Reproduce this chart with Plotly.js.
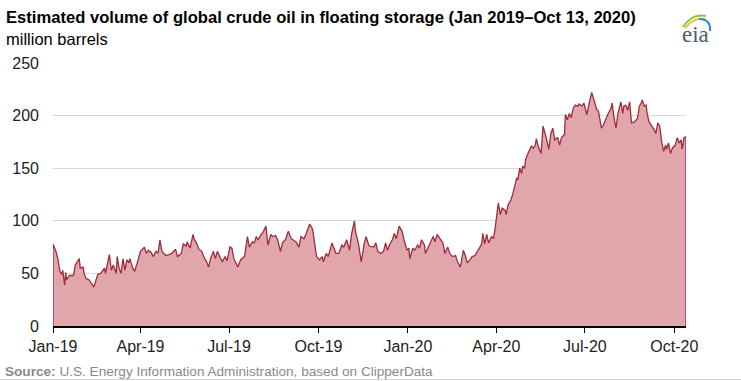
<!DOCTYPE html>
<html>
<head>
<meta charset="utf-8">
<script src="https://cdn.plot.ly/plotly-3.0.1.min.js"></script>
<style>html,body{margin:0;padding:0;background:#fff;}#chart{width:741px;height:381px;}</style>
</head>
<body>
<div id="chart"></div>
<script>
// Estimated global crude oil in floating storage, million barrels
const dates = [
"2019-01-01","2019-01-04","2019-01-06","2019-01-08","2019-01-10","2019-01-11","2019-01-13","2019-01-14","2019-01-15","2019-01-18",
"2019-01-22","2019-01-24","2019-01-28","2019-01-29","2019-02-01","2019-02-02","2019-02-04","2019-02-07","2019-02-12","2019-02-16",
"2019-02-19","2019-02-23","2019-02-24","2019-02-28","2019-03-02","2019-03-04","2019-03-07","2019-03-08","2019-03-10","2019-03-12",
"2019-03-14","2019-03-16","2019-03-18","2019-03-20","2019-03-21","2019-03-24","2019-03-26","2019-03-29","2019-04-01","2019-04-05",
"2019-04-07","2019-04-09","2019-04-12","2019-04-14","2019-04-17","2019-04-19","2019-04-21","2019-04-23","2019-04-25","2019-04-27",
"2019-05-01","2019-05-03","2019-05-07","2019-05-09","2019-05-13","2019-05-15","2019-05-18","2019-05-19","2019-05-22","2019-05-25",
"2019-05-26","2019-05-29","2019-05-31","2019-06-03","2019-06-05","2019-06-08","2019-06-10","2019-06-12","2019-06-15","2019-06-17",
"2019-06-19","2019-06-22","2019-06-24","2019-06-27","2019-06-29","2019-07-02","2019-07-04","2019-07-06","2019-07-10","2019-07-13",
"2019-07-17","2019-07-20","2019-07-22","2019-07-25","2019-07-27","2019-07-29","2019-07-31","2019-08-03","2019-08-05","2019-08-08",
"2019-08-10","2019-08-13","2019-08-15","2019-08-18","2019-08-20","2019-08-23","2019-08-25","2019-08-28","2019-08-31","2019-09-03",
"2019-09-05","2019-09-08","2019-09-11","2019-09-13","2019-09-16","2019-09-18","2019-09-22","2019-09-25","2019-09-27","2019-09-29",
"2019-10-02","2019-10-05","2019-10-06","2019-10-09","2019-10-11","2019-10-15","2019-10-17","2019-10-19","2019-10-22","2019-10-25",
"2019-10-27","2019-10-30","2019-11-02","2019-11-04","2019-11-07","2019-11-08","2019-11-11","2019-11-14","2019-11-17","2019-11-19",
"2019-11-22","2019-11-25","2019-11-27","2019-11-29","2019-12-01","2019-12-04","2019-12-07","2019-12-09","2019-12-11","2019-12-13",
"2019-12-16","2019-12-18","2019-12-20","2019-12-23","2019-12-26","2019-12-28","2019-12-31",
"2020-01-02","2020-01-03","2020-01-06","2020-01-08","2020-01-11","2020-01-13","2020-01-15","2020-01-18","2020-01-19","2020-01-22",
"2020-01-25","2020-01-27","2020-01-29","2020-01-31","2020-02-03","2020-02-06","2020-02-08","2020-02-11","2020-02-13","2020-02-16",
"2020-02-19","2020-02-21","2020-02-24","2020-02-26","2020-02-27","2020-02-29","2020-03-02","2020-03-05","2020-03-07","2020-03-10",
"2020-03-13","2020-03-15","2020-03-17","2020-03-18","2020-03-20","2020-03-22","2020-03-24","2020-03-27","2020-03-29","2020-03-31",
"2020-04-01","2020-04-03","2020-04-05","2020-04-07","2020-04-10","2020-04-11","2020-04-13","2020-04-16","2020-04-18","2020-04-20",
"2020-04-22","2020-04-23","2020-04-25","2020-04-27","2020-04-28","2020-04-30","2020-05-01","2020-05-03","2020-05-05","2020-05-07",
"2020-05-09","2020-05-11","2020-05-12","2020-05-14","2020-05-17","2020-05-19","2020-05-22","2020-05-25","2020-05-27","2020-05-29",
"2020-05-31","2020-06-03","2020-06-05","2020-06-07","2020-06-10","2020-06-11","2020-06-13","2020-06-15","2020-06-17","2020-06-19",
"2020-06-21","2020-06-24","2020-06-25","2020-06-28","2020-06-30","2020-07-03","2020-07-05","2020-07-06","2020-07-08","2020-07-11",
"2020-07-13","2020-07-15","2020-07-16","2020-07-18","2020-07-20","2020-07-22","2020-07-24","2020-07-25","2020-07-28","2020-07-29",
"2020-07-31","2020-08-02","2020-08-04","2020-08-07","2020-08-09","2020-08-10","2020-08-12","2020-08-14","2020-08-16","2020-08-18",
"2020-08-21","2020-08-24","2020-08-26","2020-08-28","2020-08-29","2020-08-31","2020-09-02","2020-09-03","2020-09-05","2020-09-08",
"2020-09-10","2020-09-12","2020-09-14","2020-09-16","2020-09-18","2020-09-20","2020-09-22","2020-09-23","2020-09-25","2020-09-27",
"2020-09-29","2020-10-02","2020-10-04","2020-10-06","2020-10-08","2020-10-09","2020-10-11","2020-10-13"
];
const storage = [
78,71,64,52,49,53,39,51,44,48,
48,58,64,55,56,50,45,44,37,49,
50,55,50,68,53,58,50,66,55,50,
64,53,63,60,64,55,52,61,71,75,
69,72,70,66,71,69,82,71,69,67,
68,69,73,66,69,78,76,80,74,87,
83,78,73,71,66,61,56,64,71,64,
71,64,61,66,62,75,74,64,56,63,
66,85,75,80,79,85,82,87,89,95,
77,87,85,86,82,71,79,82,90,83,
82,80,75,85,83,87,97,92,79,66,
63,66,61,69,66,79,74,69,69,77,
75,82,72,87,100,90,79,61,78,85,
76,75,75,79,71,69,71,79,72,77,
82,88,83,95,90,82,72,
74,64,74,72,77,74,82,77,69,75,
82,85,80,87,83,79,69,75,69,66,
67,61,56,66,72,67,60,63,66,67,
72,74,78,88,78,87,79,85,83,95,
104,117,106,112,110,106,115,120,126,133,
141,139,150,145,152,150,158,163,168,171,
169,172,178,171,164,190,180,168,183,188,
177,179,172,179,182,201,196,202,198,207,
210,209,211,209,212,201,210,214,222,213,
206,204,198,188,191,196,201,202,207,212,
198,188,202,213,202,209,210,205,213,193,
194,197,209,212,215,209,210,202,194,190,
187,183,193,190,175,166,172,168,174,164,
169,172,179,174,177,168,179,180
];
const tickDates = ["2019-01-01","2019-04-01","2019-07-01","2019-10-01","2020-01-01","2020-04-01","2020-07-01","2020-10-01"];
const tickLabels = ["Jan-19","Apr-19","Jul-19","Oct-19","Jan-20","Apr-20","Jul-20","Oct-20"];
const yTicks = [0,50,100,150,200,250];

const titleText = "<b>Estimated volume of global crude oil in floating storage (Jan 2019\u2013Oct 13, 2020)</b>";
const unitText = "million barrels";
const sourceText = "<b>Source:</b> U.S. Energy Information Administration, based on ClipperData";

// Layout geometry (pixels)
const W = 741, H = 381;
const M = {l: 53, r: 55, t: 63, b: 55};
const pw = W - M.l - M.r, ph = H - M.t - M.b;
const px = x => (x - M.l) / pw;
const py = y => (H - M.b - y) / ph;

// outline closes down to the baseline at both ends
const xs = [dates[0]].concat(dates, [dates[dates.length - 1]]);
const ys = [0].concat(storage, [0]);

const FONT = '"Liberation Sans", Arial, sans-serif';

const trace = {
  x: xs, y: ys, type: 'scatter', mode: 'lines',
  fill: 'tozeroy', fillcolor: '#e1a6ab',
  line: {color: '#9e2b3b', width: 1.3},
  hoverinfo: 'skip'
};

const layout = {
  width: W, height: H,
  margin: M,
  paper_bgcolor: '#ffffff', plot_bgcolor: '#ffffff',
  showlegend: false,
  font: {family: FONT, size: 16, color: '#222'},
  xaxis: {
    type: 'date',
    range: [dates[0], dates[dates.length - 1]],
    tickvals: tickDates, ticktext: tickLabels,
    showgrid: false, zeroline: false,
    showline: true, linecolor: '#000', linewidth: 1.5,
    ticks: 'outside', ticklen: 5, tickcolor: '#000', tickwidth: 1,
    tickfont: {family: FONT, size: 16, color: '#222'},
    fixedrange: true
  },
  yaxis: {
    range: [0, 250], tickvals: yTicks,
    showgrid: true, gridcolor: '#d9d9d9', gridwidth: 1,
    zeroline: false, showline: false, ticks: '',
    ticklabelstandoff: 13,
    tickfont: {family: FONT, size: 16, color: '#222'},
    fixedrange: true
  },
  annotations: [
    {text: titleText, xref: 'paper', yref: 'paper', x: px(4), y: py(18), xanchor: 'left', yanchor: 'middle',
     showarrow: false, font: {family: FONT, size: 16.6, color: '#000'}},
    {text: unitText, xref: 'paper', yref: 'paper', x: px(4), y: py(39), xanchor: 'left', yanchor: 'middle',
     showarrow: false, font: {family: FONT, size: 16.5, color: '#000'}},
    {text: sourceText, xref: 'paper', yref: 'paper', x: px(3), y: py(371), xanchor: 'left', yanchor: 'middle',
     showarrow: false, font: {family: FONT, size: 13.6, color: '#8a8a8a'}},
    {text: 'eia', xref: 'paper', yref: 'paper', x: px(695), y: py(34), xanchor: 'center', yanchor: 'middle',
     showarrow: false, font: {family: '"Liberation Serif", "DejaVu Serif", serif', size: 23, color: '#4e5c6c'}}
  ],
  shapes: [
    {type: 'line', xref: 'paper', yref: 'paper', x0: px(0), x1: px(741), y0: py(379.5), y1: py(379.5),
     line: {color: '#d4d4d4', width: 1}},
    {type: 'path', xref: 'paper', yref: 'paper',
     path: `M ${px(683)} ${py(27)} Q ${px(692)} ${py(13)} ${px(706)} ${py(16)}`,
     line: {color: '#8cc63f', width: 2}},
    {type: 'path', xref: 'paper', yref: 'paper',
     path: `M ${px(685)} ${py(28)} Q ${px(694)} ${py(17)} ${px(705)} ${py(19)}`,
     line: {color: '#f2c230', width: 2}},
    {type: 'path', xref: 'paper', yref: 'paper',
     path: `M ${px(699)} ${py(19)} Q ${px(711)} ${py(19)} ${px(710)} ${py(31)}`,
     line: {color: '#2f8fd0', width: 2}}
  ]
};

Plotly.newPlot('chart', [trace], layout, {displayModeBar: false, staticPlot: true});
</script>
</body>
</html>
